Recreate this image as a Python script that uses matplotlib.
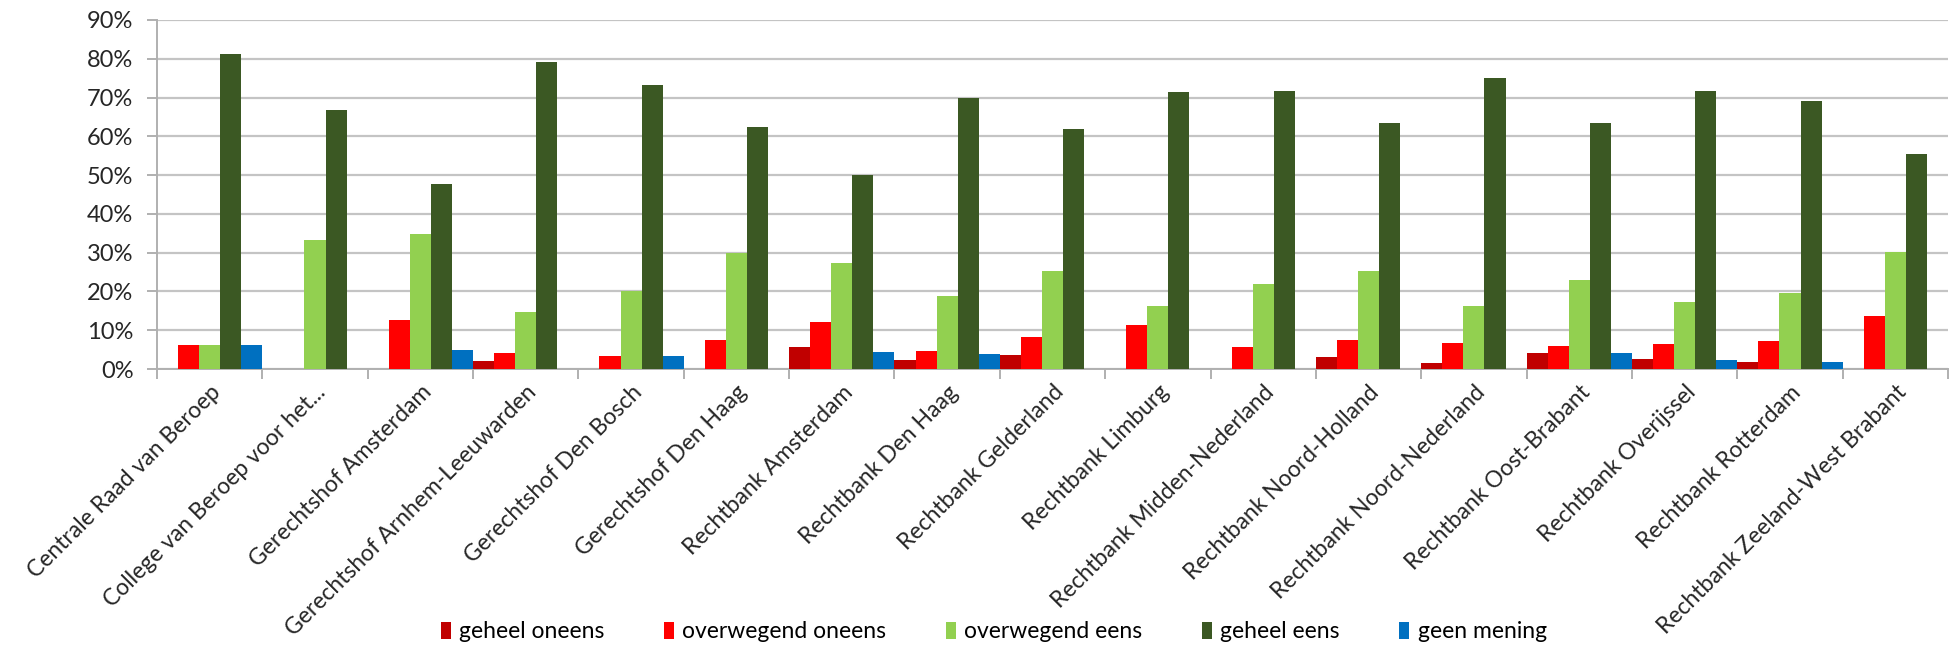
import numpy as np
import matplotlib
matplotlib.use('Agg')
import matplotlib.pyplot as plt
from matplotlib.ticker import PercentFormatter, FixedLocator
from matplotlib.patches import Patch

plt.rcParams['font.family'] = ['Lato', 'DejaVu Sans']

categories = ['Centrale Raad van Beroep', 'College van Beroep voor het...',
              'Gerechtshof Amsterdam', 'Gerechtshof Arnhem-Leeuwarden',
              'Gerechtshof Den Bosch', 'Gerechtshof Den Haag',
              'Rechtbank Amsterdam', 'Rechtbank Den Haag', 'Rechtbank Gelderland',
              'Rechtbank Limburg', 'Rechtbank Midden-Nederland',
              'Rechtbank Noord-Holland', 'Rechtbank Noord-Nederland',
              'Rechtbank Oost-Brabant', 'Rechtbank Overijssel',
              'Rechtbank Rotterdam', 'Rechtbank Zeeland-West Brabant']

series = ['geheel oneens', 'overwegend oneens', 'overwegend eens',
          'geheel eens', 'geen mening']

geheel_oneens     = [0, 0, 0, 2.1, 0, 0, 5.7, 2.4, 3.7, 0, 0, 3.2, 1.6, 4.1, 2.6, 1.7, 0]
overwegend_oneens = [6.25, 0, 12.7, 4.2, 3.3, 7.4, 12.2, 4.7, 8.2, 11.4, 5.7, 7.4, 6.7, 5.9, 6.4, 7.3, 13.7]
overwegend_eens   = [6.25, 33.3, 34.7, 14.6, 20.0, 29.8, 27.4, 18.9, 25.4, 16.3, 21.9, 25.2, 16.3, 22.9, 17.2, 19.7, 30.3]
geheel_eens       = [81.25, 66.7, 47.8, 79.2, 73.2, 62.5, 49.9, 69.8, 61.9, 71.4, 71.8, 63.4, 75.0, 63.5, 71.6, 69.2, 55.4]
geen_mening       = [6.25, 0, 4.8, 0, 3.3, 0, 4.4, 3.8, 0, 0, 0, 0, 0, 4.1, 2.4, 1.7, 0]

colors = ['#C00000', '#FF0000', '#92D050', '#3B5823', '#0070C0']

values = [geheel_oneens, overwegend_oneens, overwegend_eens, geheel_eens, geen_mening]

fig = plt.figure(figsize=(19.52, 6.51), dpi=100)
ax = fig.add_axes([157/1952, 1 - 369/651, (1948 - 157)/1952, (369 - 20)/651])

n = len(series)
w = 1.0 / n
x = np.arange(len(categories))
for j, (vals, c) in enumerate(zip(values, colors)):
    ax.bar(x - 0.5 + (j + 0.5) * w, np.array(vals) / 100, width=w, color=c,
           linewidth=0, zorder=3)

ax.set_xlim(-0.5, len(categories) - 0.5)
ax.set_ylim(0, 0.9)
ax.set_yticks(np.arange(0, 0.91, 0.1))
ax.yaxis.set_major_formatter(PercentFormatter(1.0, decimals=0))
ax.grid(axis='y', color='#C4C4C4', linewidth=1.6, zorder=0)

ax.set_xticks(x)
ax.set_xticklabels(categories, rotation=45, ha='right', va='top',
                   rotation_mode='anchor')
ax.xaxis.set_minor_locator(FixedLocator(np.arange(-0.5, len(categories), 1)))
ax.tick_params(axis='x', which='major', length=0, pad=9, labelsize=16.5,
               labelcolor='#262626')
ax.tick_params(axis='x', which='minor', length=7, width=1.4, color='#B0B0B0')
ax.tick_params(axis='y', length=7, width=1.4, color='#B0B0B0', pad=10,
               labelsize=17, labelcolor='#262626')

for s in ['top', 'right']:
    ax.spines[s].set_visible(False)
for s in ['left', 'bottom']:
    ax.spines[s].set_color('#B0B0B0')
    ax.spines[s].set_linewidth(1.4)

handles = [Patch(facecolor=c, edgecolor='none') for c in colors]
fig.legend(handles, series, loc='center', bbox_to_anchor=(0.509, 1 - 632/651),
           ncol=5, frameon=False, fontsize=16.5, handlelength=0.45,
           handleheight=0.7, handletextpad=0.35, columnspacing=2.6)

fig.savefig('out.png', dpi=100)
